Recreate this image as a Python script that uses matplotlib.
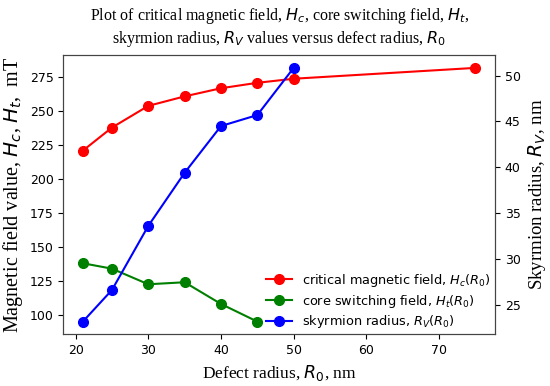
import matplotlib
matplotlib.use("Agg")
import matplotlib.pyplot as plt

# defect radius R0, nm
r0_hc = [21, 25, 30, 35, 40, 45, 50, 75]
hc = [221, 238, 254, 261, 267, 271, 274, 282]

r0_ht = [21, 25, 30, 35, 40, 45]
ht = [138, 134, 122.5, 124, 108, 95]

r0_rv = [21, 25, 30, 35, 40, 45, 50]
rv = [23.15, 26.6, 33.6, 39.4, 44.5, 45.7, 50.85]

serif = ["Liberation Serif", "DejaVu Serif"]

fig, ax = plt.subplots(figsize=(5.5, 3.86), dpi=100)
ax2 = ax.twinx()

l1, = ax.plot(r0_hc, hc, "o-", color="red", lw=1.5, ms=7,
              label=r"critical magnetic field, $H_c(R_0)$")
l2, = ax.plot(r0_ht, ht, "o-", color="green", lw=1.5, ms=7,
              label=r"core switching field, $H_t(R_0)$")
l3, = ax2.plot(r0_rv, rv, "o-", color="blue", lw=1.5, ms=7,
               label=r"skyrmion radius, $R_V(R_0)$")

ax.set_yticks([100, 125, 150, 175, 200, 225, 250, 275])
ax2.set_yticks([25, 30, 35, 40, 45, 50])
ax.set_xticks([20, 30, 40, 50, 60, 70])
for a in (ax, ax2):
    a.tick_params(labelsize=9)
    for s in a.spines.values():
        s.set_color("#444444")

ax.set_xlabel(r"Defect radius, $R_0$, nm", family=serif, fontsize=12.5)
ax.set_ylabel(r"Magnetic field value, $H_c$, $H_t$,  mT", family=serif, fontsize=14.5,
              labelpad=3)
ax2.set_ylabel(r"Skyrmion radius, $R_V$, nm", family=serif, fontsize=13.5, labelpad=4)
ax.set_title("Plot of critical magnetic field, $H_c$, core switching field, $H_t$,\n"
             "skyrmion radius, $R_V$ values versus defect radius, $R_0$",
             family=serif, fontsize=11.5, pad=9)

ax2.legend(handles=[l1, l2, l3], loc="lower right", frameon=False,
           fontsize=9.3, borderaxespad=0.0, handlelength=2, labelspacing=0.3,
           borderpad=0.3)

fig.subplots_adjust(left=0.115, right=0.9, top=0.857, bottom=0.134)
fig.savefig("out.png", dpi=100)
